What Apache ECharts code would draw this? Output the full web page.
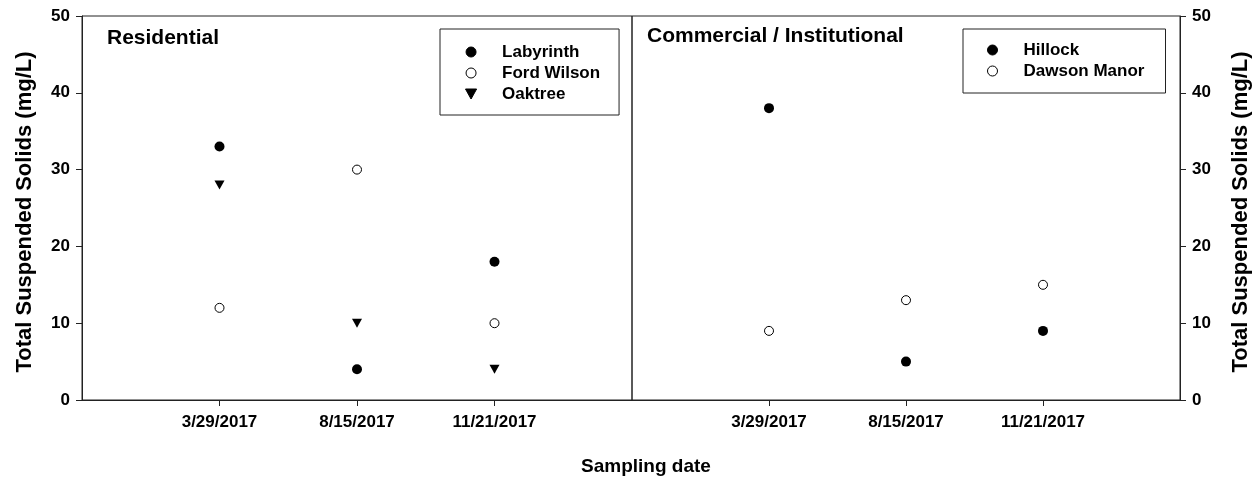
<!DOCTYPE html>
<html>
<head>
<meta charset="utf-8">
<script src="https://cdn.jsdelivr.net/npm/echarts@6/dist/echarts.min.js"></script>
<style>
html,body{margin:0;padding:0;background:#fff;}
#chart{width:1260px;height:480px;}
</style>
</head>
<body>
<div id="chart"></div>
<script>
// ---- data ----
const dates = ['3/29/2017', '8/15/2017', '11/21/2017'];
const yTicks = [0, 10, 20, 30, 40, 50];
// Residential
const labyrinth = [33, 4, 18];
const fordWilson = [12, 30, 10];
const oaktree = [28, 10, 4];
// Commercial / Institutional
const hillock = [38, 5, 9];
const dawsonManor = [9, 13, 15];

const panelTitles = ['Residential', 'Commercial / Institutional'];
const yTitle = 'Total Suspended Solids (mg/L)';
const xTitle = 'Sampling date';

// ---- chart ----
const FONT = '"Liberation Sans", Arial, Helvetica, sans-serif';
const LINE = '#222';
const LEG_FONT = 17;
const xCats = [''].concat(dates, ['']);
const pts = vals => dates.map((d, i) => [d, vals[i]]);

const ctx = document.createElement('canvas').getContext('2d');
function textW(names, size) {
  ctx.font = 'bold ' + size + 'px ' + FONT;
  return Math.max.apply(null, names.map(n => ctx.measureText(n).width));
}

function xAxis(gi) {
  return {
    gridIndex: gi, type: 'category', data: xCats, boundaryGap: false,
    axisLine: { show: true, lineStyle: { color: LINE, width: 1 } },
    axisTick: { show: true, inside: false, length: 6, lineStyle: { color: LINE },
      interval: (i) => i > 0 && i < xCats.length - 1 },
    axisLabel: { interval: 0, margin: 14, color: '#000', fontFamily: FONT, fontWeight: 'bold', fontSize: 17 },
    splitLine: { show: false }
  };
}
function yAxis(gi, pos, gap) {
  return {
    gridIndex: gi, type: 'value', position: pos, min: yTicks[0], max: yTicks[yTicks.length - 1], interval: 10,
    axisLine: { show: true, lineStyle: { color: LINE, width: 1 } },
    axisTick: { show: true, inside: false, length: 6, lineStyle: { color: LINE } },
    axisLabel: { margin: 12, color: '#000', fontFamily: FONT, fontWeight: 'bold', fontSize: 17 },
    splitLine: { show: false },
    name: yTitle, nameLocation: 'middle', nameRotate: 90, nameGap: gap,
    nameTextStyle: { color: '#000', fontFamily: FONT, fontWeight: 'bold', fontSize: 22, padding: [0, 8, 0, 0] }
  };
}
const filled = { color: '#000', borderColor: '#000', borderWidth: 0, opacity: 1 };
const hollow = { color: '#fff', borderColor: '#000', borderWidth: 1, opacity: 1 };
function sc(name, vals, gi, symbol, itemStyle, size, rot) {
  return {
    type: 'scatter', name: name, xAxisIndex: gi, yAxisIndex: gi,
    data: pts(vals), symbol: symbol, symbolSize: size, symbolRotate: rot || 0,
    itemStyle: itemStyle, emphasis: { disabled: true }, z: 5
  };
}
const downTri = 'path://M0,0L10,0L5,9Z';
function legend(items, left, top, boxW, padTop, padBottom, padL) {
  const names = items.map(it => it.name);
  const padR = Math.max(0, boxW - padL - 37 - textW(names, LEG_FONT));
  return {
    data: items, orient: 'vertical', left: left, top: top, align: 'left',
    itemWidth: 52, itemHeight: 10, itemGap: 1, symbolKeepAspect: true,
    padding: [padTop, padR, padBottom, padL],
    borderColor: '#222', borderWidth: 1, borderRadius: 0, backgroundColor: '#fff',
    itemStyle: { borderWidth: 1, opacity: 1 },
    selectedMode: false,
    textStyle: { color: '#000', fontFamily: FONT, fontWeight: 'bold', fontSize: LEG_FONT, lineHeight: 20 }
  };
}
const xTitleSize = 19;
const chart = echarts.init(document.getElementById('chart'), null, { renderer: 'canvas' });
chart.setOption({
  animation: false,
  backgroundColor: '#fff',
  title: [
    { text: panelTitles[0], left: 107, top: 27, padding: 0,
      textStyle: { color: '#000', fontFamily: FONT, fontWeight: 'bold', fontSize: 21, lineHeight: 22 } },
    { text: panelTitles[1], left: 647, top: 25, padding: 0,
      textStyle: { color: '#000', fontFamily: FONT, fontWeight: 'bold', fontSize: 21, lineHeight: 22 } },
    { text: xTitle, left: Math.round(646 - textW([xTitle], xTitleSize) / 2), top: 456, padding: 0,
      textStyle: { color: '#000', fontFamily: FONT, fontWeight: 'bold', fontSize: xTitleSize, lineHeight: 22 } }
  ],
  grid: [
    { left: 82, top: 16, width: 550, height: 384, show: true, borderColor: LINE, borderWidth: 1, backgroundColor: 'transparent' },
    { left: 632, top: 16, width: 548, height: 384, show: true, borderColor: LINE, borderWidth: 1, backgroundColor: 'transparent' }
  ],
  xAxis: [xAxis(0), xAxis(1)],
  yAxis: [yAxis(0, 'left', 46), yAxis(1, 'right', 50)],
  legend: [
    legend([{ name: 'Labyrinth' }, { name: 'Ford Wilson' }, { name: 'Oaktree', icon: downTri }], 440, 29, 179, 13, 11, 25),
    legend([{ name: 'Hillock' }, { name: 'Dawson Manor' }], 963, 29, 203, 11, 12, 24)
  ],
  series: [
    sc('Labyrinth', labyrinth, 0, 'circle', filled, 10),
    sc('Ford Wilson', fordWilson, 0, 'circle', hollow, 9),
    sc('Oaktree', oaktree, 0, downTri, filled, [10, 9]),
    sc('Hillock', hillock, 1, 'circle', filled, 10),
    sc('Dawson Manor', dawsonManor, 1, 'circle', hollow, 9)
  ]
});
</script>
</body>
</html>
